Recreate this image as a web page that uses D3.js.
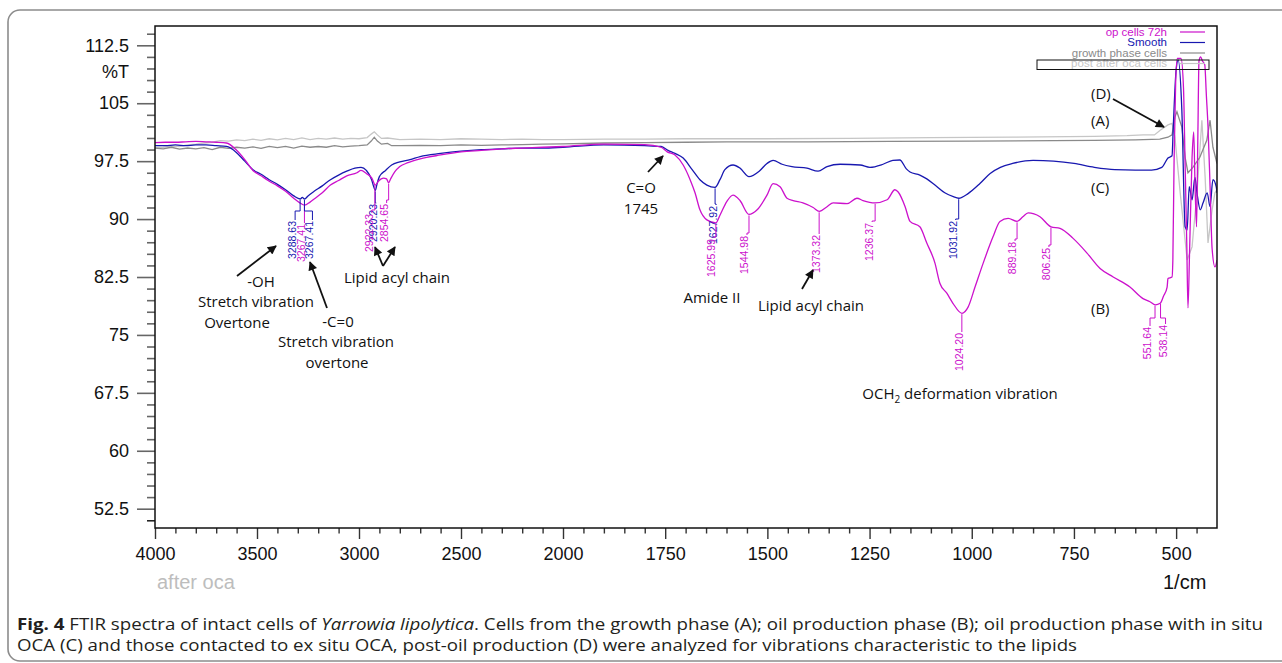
<!DOCTYPE html>
<html><head><meta charset="utf-8">
<script src="https://cdn.jsdelivr.net/npm/d3@7"></script>
<style>body{margin:0;background:#fff;} svg{display:block;}</style>
</head><body>
<svg id="chart" width="1282" height="663"></svg>
<script>
// ---------------- DATA ----------------
// (B) op cells 72h
const wnB = [4000,3950,3900,3850,3800,3750,3700,3650,3600,3560,3520,3480,3440,3400,3360,3320,3290,3267,3240,3220,3180,3140,3100,3060,3010,2990,2964,2937,2920,2905,2880,2865,2855,2845,2825,2800,2760,2700,2600,2500,2400,2300,2200,2100,2000,1900,1800,1760,1745,1726,1706,1689,1677,1665,1648,1626,1616,1599,1584,1567,1545,1525,1501,1486,1469,1452,1437,1413,1388,1373,1354,1339,1305,1281,1266,1237,1207,1188,1180,1163,1151,1127,1110,1090,1078,1061,1046,1024,1009,992,972,948,931,911,889,875,862,833,806,784,752,718,686,654,613,581,564,551,539,531,522,520,510,508,505,501,497,488,482,478,474,471,467,461,457,454,450,447,444,440,436,430,426,422,417,412,405,400];
const tB = [99.9,99.95,99.95,100.0,100.05,100.0,99.95,99.85,98.9,97.7,96.3,95.6,94.9,94.3,93.6,92.7,92.1,91.8,92.2,92.6,93.4,94.4,95.0,95.6,96.0,96.3,95.9,95.3,94.4,94.9,95.3,95.2,94.7,95.2,96.1,96.8,97.3,97.8,98.3,98.7,98.9,99.1,99.2,99.3,99.4,99.7,99.65,99.3,98.7,98.3,97.0,95.1,93.4,91.2,89.9,89.5,90.5,92.3,93.1,92.4,90.6,91.2,93.1,94.6,94.2,92.7,92.4,92.1,91.5,91.0,91.6,92.1,92.0,92.7,92.4,92.1,92.5,93.8,93.5,91.6,89.7,89.0,86.9,84.3,81.7,80.4,79.1,77.8,78.6,81.2,84.3,87.7,89.7,90.1,89.7,90.3,90.8,90.3,89.0,88.8,87.5,85.6,83.6,82.5,81.2,79.7,79.3,78.9,79.1,80.0,81.2,82.3,82.5,84.7,97.6,108,110.8,110.8,107,97,87,78.5,86,98,101.3,95,89,100,110.5,111,110.5,110,106,102,94.3,86.2,83.8,84.7];
// (C) Smooth
const wnC = [4000,3950,3900,3850,3800,3750,3700,3650,3600,3560,3520,3480,3440,3400,3360,3320,3288,3278,3267,3250,3220,3180,3140,3100,3060,3020,2990,2964,2938,2928,2920,2912,2900,2870,2840,2800,2750,2700,2600,2500,2400,2300,2200,2100,2000,1900,1800,1760,1743,1726,1706,1684,1665,1648,1628,1616,1604,1584,1567,1545,1520,1501,1486,1464,1440,1403,1376,1354,1322,1273,1249,1217,1193,1176,1160,1151,1127,1110,1090,1066,1045,1032,1009,980,955,930,900,850,800,750,700,650,600,560,535,520,510,507,500,495,486,478,473,468,461,454,449,441,434,424,417,410,402,400];
const tC = [99.5,99.5,99.6,99.5,99.6,99.6,99.5,99.4,98.6,97.5,96.4,95.8,95.1,94.5,93.8,93.0,92.6,92.8,92.6,93.0,93.6,94.3,95.1,95.7,96.2,96.6,96.7,96.3,95.1,94.2,93.7,94.5,95.5,96.3,97.0,97.4,97.7,98.1,98.5,98.8,99.0,99.1,99.2,99.2,99.3,99.6,99.5,99.4,98.9,98.5,97.9,96.4,95.1,94.4,94.1,95.1,96.4,97.0,96.6,95.5,96.2,97.2,97.6,97.1,96.8,96.6,96.2,96.8,97.1,97.0,96.7,97.1,97.6,97.65,96.5,96.1,95.7,95.2,94.4,93.4,92.9,92.7,93.3,94.6,95.9,96.7,97.2,97.6,97.5,97.2,96.7,96.4,96.35,96.35,96.7,97.9,98.2,101.9,109.3,110.6,104.1,89,88.6,94.2,92.5,95.4,93.4,91.2,92.1,93.4,91.6,95.1,94.2,93.4];
// (A) growth phase cells
const wnA = [4000,3960,3920,3880,3840,3800,3760,3720,3680,3640,3600,3560,3520,3480,3440,3400,3360,3320,3280,3240,3200,3160,3120,3080,3040,3000,2960,2940,2925,2910,2890,2860,2840,2800,2700,2600,2500,2400,2300,2200,2100,2000,1900,1800,1700,1600,1400,1200,1000,800,700,600,540,520,510,503,498,486,478,471,459,442,425,417,410,400];
const tA = [99.2,99.1,99.3,99.05,99.2,99.1,99.25,99.0,99.3,99.15,99.3,99.2,99.35,99.15,99.4,99.25,99.4,99.2,99.45,99.3,99.4,99.3,99.5,99.35,99.45,99.5,99.6,100.1,100.6,100.1,99.7,99.8,99.5,99.5,99.55,99.5,99.6,99.55,99.6,99.65,99.7,99.75,99.85,99.9,99.95,100.0,100.0,100.05,100.1,100.15,100.2,100.25,100.35,100.6,100.9,103.2,103.9,101.9,98.0,96.0,96.7,98.0,100.2,102.8,99.3,97.2];
// (D) post after oca cells
const wnD = [4000,3960,3920,3880,3840,3800,3760,3720,3680,3640,3600,3560,3520,3480,3440,3400,3360,3320,3280,3240,3200,3160,3120,3080,3040,3000,2960,2940,2925,2910,2890,2860,2800,2700,2600,2500,2400,2300,2200,2100,2000,1900,1800,1700,1500,1300,1100,900,700,620,580,553,539,520,510,503,490,473,461,449,437,429,422,412,405,400];
const tD = [99.25,99.3,99.45,99.4,99.6,99.7,99.85,99.95,100.15,100.1,100.25,100.15,100.35,100.2,100.4,100.25,100.45,100.3,100.5,100.3,100.45,100.35,100.5,100.35,100.45,100.4,100.55,101.0,101.3,100.9,100.45,100.5,100.3,100.35,100.3,100.4,100.35,100.3,100.35,100.3,100.3,100.35,100.35,100.4,100.4,100.45,100.55,100.6,100.7,100.8,100.9,100.9,101.5,102.2,102.4,100.6,93.4,84.7,86.4,93.4,102.8,95.4,86.9,91.2,93.4,93.8];

const legendNames = ["op cells 72h","Smooth","growth phase cells","post after oca cells"];
const xMajorTicks = [4000,3500,3000,2500,2000,1750,1500,1250,1000,750,500];
const yMajorTicks = [52.5,60,67.5,75,82.5,90,97.5,105,112.5];

const peakWn = [3288.63,3267.41,3267.41,2920.23,2922.33,2854.65,1627.92,1625.99,1544.98,1373.32,1236.37,1031.92,1024.20,889.18,806.25,551.64,538.14];
const peakSeries = ["C","B","C","C","B","B","C","B","B","B","B","C","B","B","B","B","B"];

// ---------------- LAYOUT ----------------
const colors = {B:"#cc11cc", C:"#1818b0", A:"#8a8a8a", D:"#c6c6c6"};
const svg = d3.select("#chart");
const L = 155, R = 1217, T = 26, Bm = 528;
const x = d3.scaleLinear().domain([4000,2000,400]).range([L,563,R]);
const y = d3.scaleLinear().domain([50,115]).range([Bm,T]);

// outer figure frame
svg.append("rect").attr("x",8).attr("y",10).attr("width",1300).attr("height",651)
  .attr("rx",12).attr("fill","none").attr("stroke","#8c8c8c").attr("stroke-width",1.6);

// x minor ticks
const xMinor = [];
for (let v=3900; v>2000; v-=100) if (v%500) xMinor.push(v);
for (let v=1950; v>400; v-=50) if (v%250) xMinor.push(v);
const yMinor = [];
for (let v=51; v<=114.01; v+=1.5) { if (Math.abs(((v-52.5)/7.5) - Math.round((v-52.5)/7.5))>1e-6) yMinor.push(+v.toFixed(2)); }

const axisFont = "'Liberation Sans', Arial, sans-serif";
const gx = svg.append("g").attr("transform",`translate(0,${Bm})`);
gx.call(d3.axisBottom(x).tickValues(xMinor).tickSize(5.5).tickFormat(""));
gx.append("g").call(d3.axisBottom(x).tickValues(xMajorTicks).tickSize(11).tickPadding(8).tickFormat(d=>d));
gx.selectAll(".domain").remove();
gx.selectAll("line").attr("stroke","#333").attr("stroke-width",1.4);
gx.selectAll("text").attr("font-family",axisFont).attr("font-size",18).attr("fill","#111");

const gy = svg.append("g").attr("transform",`translate(${L},0)`);
gy.call(d3.axisLeft(y).tickValues(yMinor).tickSize(8).tickFormat(""));
gy.append("g").call(d3.axisLeft(y).tickValues(yMajorTicks).tickSize(18).tickPadding(8).tickFormat(d=>d));
gy.selectAll(".domain").remove();
gy.selectAll("line").attr("stroke","#666").attr("stroke-width",1.6);
gy.select("g").selectAll("line").attr("stroke","#222");
gy.selectAll("text").attr("font-family",axisFont).attr("font-size",18).attr("fill","#111");

svg.append("text").attr("x",129).attr("y",78).attr("text-anchor","end")
  .attr("font-family",axisFont).attr("font-size",18).attr("fill","#111").text("%T");
svg.append("text").attr("x",1163).attr("y",589)
  .attr("font-family",axisFont).attr("font-size",20).attr("fill","#111").text("1/cm");
svg.append("text").attr("x",157).attr("y",589)
  .attr("font-family",axisFont).attr("font-size",20).attr("fill","#bdbdbd").text("after oca");

// clip
svg.append("clipPath").attr("id","clip").append("rect").attr("x",L).attr("y",T).attr("width",R-L).attr("height",Bm-T);

const series = [
  {k:"D", wn:wnD, t:tD, curve:d3.curveLinear},
  {k:"A", wn:wnA, t:tA, curve:d3.curveLinear},
  {k:"C", wn:wnC, t:tC, curve:d3.curveMonotoneX},
  {k:"B", wn:wnB, t:tB, curve:d3.curveMonotoneX}
];
const sMap = {};
const gl = svg.append("g").attr("clip-path","url(#clip)");
series.forEach(s=>{
  const pts = s.wn.map((w,i)=>[w,s.t[i]]);
  sMap[s.k]=pts;
  gl.append("path").datum(pts)
    .attr("d", d3.line().x(d=>x(d[0])).y(d=>y(d[1])).curve(s.curve))
    .attr("fill","none").attr("stroke",colors[s.k]).attr("stroke-width",1.3);
});

// plot frame
svg.append("rect").attr("x",L).attr("y",T).attr("width",R-L).attr("height",Bm-T)
  .attr("fill","none").attr("stroke","#111").attr("stroke-width",1.5);

// peak labels
function interp(pts,w){
  for(let i=0;i<pts.length-1;i++){
    const a=pts[i], b=pts[i+1];
    if ((w<=a[0] && w>=b[0])) { const f=(a[0]-w)/(a[0]-b[0]); return a[1]+f*(b[1]-a[1]); }
  }
  return pts[pts.length-1][1];
}
const leadMid = [211,223,211,203,210,200,204,237,233,233,221,219,331,239,245,318,318];
const leadDx  = [-5,0,8,1,-3,-2,1,-2,-2,0,-3,-3,0,-2,-2,-5,5];
const textEnd = [220,223,220,203,213,203,205,238,235,234,222,220,332,241,247,326,324];
const gp = svg.append("g");
peakWn.forEach((w,i)=>{
  const k = peakSeries[i], px = x(w), py = y(interp(sMap[k],w)) + 1;
  const x2 = px + leadDx[i];
  gp.append("path").attr("d",`M${px},${py}V${leadMid[i]}H${x2}V${textEnd[i]}`)
    .attr("fill","none").attr("stroke",colors[k]).attr("stroke-width",1);
  gp.append("text").attr("transform",`translate(${x2+1},${textEnd[i]+1}) rotate(-90)`)
    .attr("text-anchor","end").attr("font-family",axisFont).attr("font-size",10.5)
    .attr("fill",colors[k]).text(w.toFixed(2));
});

// legend
const lgKeys = ["B","C","A","D"];
const lg = svg.append("g");
lgKeys.forEach((k,i)=>{
  const yy = 35.5 + i*10.5;
  lg.append("text").attr("x",1167).attr("y",yy).attr("text-anchor","end")
    .attr("font-family",axisFont).attr("font-size",11.5).attr("fill",colors[k]).text(legendNames[i]);
  lg.append("line").attr("x1",1180).attr("x2",1205).attr("y1",yy-3.5).attr("y2",yy-3.5)
    .attr("stroke",colors[k]).attr("stroke-width",1.2);
});
lg.append("rect").attr("x",1037).attr("y",60).attr("width",172).attr("height",9.5)
  .attr("fill","none").attr("stroke","#111").attr("stroke-width",1);

// annotations
const annFont = "'Open Sans', 'Noto Sans', sans-serif";
const ann = svg.append("g").attr("font-family",annFont).attr("font-size",15).attr("fill","#111");
const annTexts = [
  ["-OH",261,287,"middle"],["Stretch vibration",256,307,"middle"],["Overtone",237,328,"middle"],
  ["-C=0",338,327,"middle"],["Stretch vibration",336,347,"middle"],["overtone",337,368,"middle"],
  ["Lipid acyl chain",397,283,"middle"],["C=O",641,193,"middle"],["1745",641,214,"middle"],
  ["Amide II",712,303,"middle"],["Lipid acyl chain",811,311,"middle"],
  ["(D)",1091,99,"start"],["(A)",1091,126,"start"],["(C)",1091,193,"start"],["(B)",1091,314,"start"]
];
annTexts.forEach(a=>ann.append("text").attr("x",a[1]).attr("y",a[2]).attr("text-anchor",a[3]).text(a[0]));
const och = ann.append("text").attr("x",960).attr("y",399).attr("text-anchor","middle");
och.append("tspan").text("OCH");
och.append("tspan").attr("font-size",10).attr("dy",4).text("2");
och.append("tspan").attr("dy",-4).text(" deformation vibration");

// arrows
const defs = svg.append("defs");
defs.append("marker").attr("id","ah").attr("viewBox","0 0 10 10").attr("refX",9).attr("refY",5)
  .attr("markerWidth",10).attr("markerHeight",9).attr("markerUnits","userSpaceOnUse").attr("orient","auto")
  .append("path").attr("d","M0,0L10,5L0,10z").attr("fill","#111");
const arrows = [[237,276,276,246],[327,308,310,262],[383,266,375,247],[383,266,395,247],
                [648,172,663,156],[802,289,813,270],[1113,99,1164,127]];
arrows.forEach(a=>svg.append("line").attr("x1",a[0]).attr("y1",a[1]).attr("x2",a[2]).attr("y2",a[3])
  .attr("stroke","#111").attr("stroke-width",1.8).attr("marker-end","url(#ah)"));

// caption
const capFont = "'Liberation Sans Narrow','Open Sans','Noto Sans',sans-serif";
const c1 = svg.append("text").attr("x",17).attr("y",630).attr("font-family",capFont).attr("font-size",16).attr("fill","#231f20");
c1.append("tspan").attr("font-weight","bold").text("Fig. 4");
c1.append("tspan").text("  FTIR spectra of intact cells of ");
c1.append("tspan").attr("font-style","italic").text("Yarrowia lipolytica");
c1.append("tspan").text(". Cells from the growth phase (A); oil production phase (B); oil production phase with in situ");
const c2 = svg.append("text").attr("x",17).attr("y",651).attr("font-family",capFont).attr("font-size",16).attr("fill","#231f20")
  .text("OCA (C) and those contacted to ex situ OCA, post-oil production (D) were analyzed for vibrations characteristic to the lipids");
[[c1,1246],[c2,1060]].forEach(([t,w])=>{ t.attr("textLength",w).attr("lengthAdjust","spacingAndGlyphs"); });
</script>
</body></html>
